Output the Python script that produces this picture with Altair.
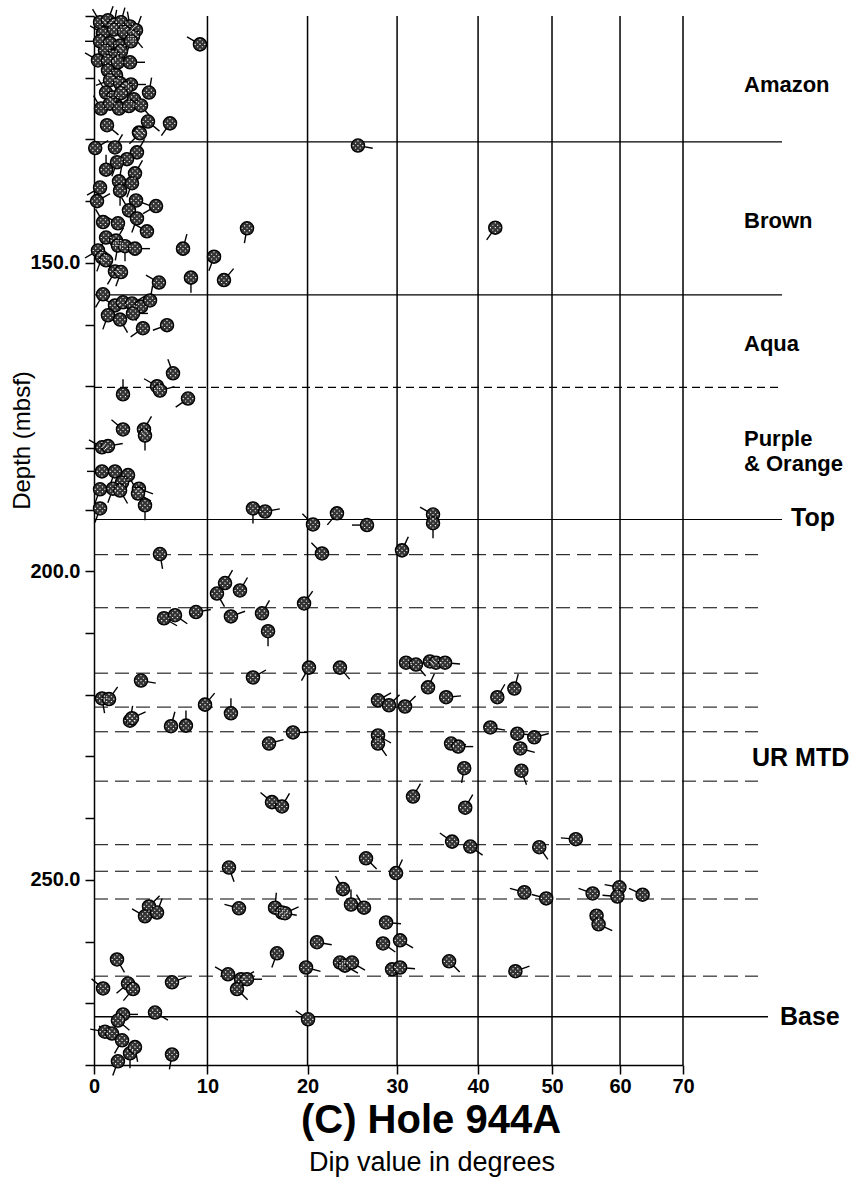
import altair as alt
import pandas as pd

# ---------------------------------------------------------------------------
# Tadpole data for Hole 944A: dip (degrees), depth (mbsf), dip azimuth (deg)
# ---------------------------------------------------------------------------

# Amazon interval
AMAZON_DIP = [0.50, 1.16, 1.67, 2.26, 3.03, 3.55, 0.75, 1.67, 2.52, 3.29,
              0.50, 1.33, 2.18, 3.11, 0.91, 2.26, 1.58, 0.33, 1.16, 2.00,
              3.03, 1.16, 1.84, 1.33, 2.18, 3.11, 2.69, 4.68, 1.00, 1.58,
              2.26, 3.37, 0.58, 1.33, 2.09, 2.94, 3.98, 1.08, 4.59, 6.55,
              3.80, 9.30]
AMAZON_DEPTH = [111.0, 110.7, 111.4, 111.0, 111.7, 112.3, 112.8, 112.2, 112.6, 113.3,
                114.1, 114.4, 114.8, 114.1, 115.6, 115.7, 116.5, 117.2, 117.3, 117.5,
                117.5, 118.8, 119.6, 120.4, 120.9, 121.1, 121.7, 122.4, 122.4, 123.2,
                122.5, 123.5, 125.0, 124.2, 125.0, 124.6, 124.5, 127.7, 127.1, 127.4,
                128.9, 114.6]
AMAZON_AZI = [330, 20, 10, 15, 350, 20, 300, 30, 180, 140,
              270, 200, 160, 200, 90, 20, 250, 300, 200, 90,
              90, 120, 30, 250, 150, 90, 330, 10, 330, 210,
              180, 130, 330, 240, 90, 300, 140, 130, 130, 215,
              30, 300]

# Brown interval
BROWN_DIP = [0.10, 1.75, 3.89, 3.63, 2.77, 1.92, 1.00, 3.46, 2.09, 3.20,
             0.50, 2.18, 0.25, 3.55, 5.30, 2.94, 3.63, 0.75, 2.00, 4.50,
             1.00, 1.84, 2.00, 2.60, 3.46, 0.33, 0.66, 1.00, 1.75, 2.26,
             7.73, 8.46, 5.56, 10.62, 11.57, 13.81, 25.50, 42.25]
BROWN_DEPTH = [131.4, 131.3, 129.0, 132.1, 133.2, 133.7, 134.9, 135.5, 136.8, 137.1,
               137.8, 138.3, 140.0, 139.9, 140.8, 141.5, 142.8, 143.4, 143.6, 144.9,
               145.9, 146.4, 147.2, 147.3, 147.7, 148.0, 149.1, 149.6, 151.4, 151.5,
               147.7, 152.4, 153.2, 149.0, 152.8, 144.4, 131.0, 144.3]
BROWN_AZI = [60, 30, 225, 30, 240, 200, 0, 30, 10, 200,
             240, 180, 60, 110, 240, 330, 200, 330, 300, 300,
             210, 30, 190, 180, 90, 240, 200, 150, 210, 200,
             15, 180, 300, 200, 40, 190, 100, 215]

# Aqua interval
AQUA_DIP = [0.75, 1.75, 2.43, 3.20, 3.98, 4.77, 1.16, 2.18, 3.29, 4.15,
            6.28, 6.82, 5.39, 5.65, 2.43, 8.19]
AQUA_DEPTH = [155.1, 156.9, 156.4, 156.6, 157.1, 156.1, 158.5, 159.2, 158.2, 160.6,
              160.1, 167.9, 170.0, 170.7, 171.3, 172.0]
AQUA_AZI = [210, 300, 90, 60, 200, 10, 200, 150, 90, 235,
            250, 340, 300, 75, 0, 235]

# Purple & Orange interval
PURPLE_DIP = [2.43, 4.24, 4.33, 0.66, 1.16, 0.66, 1.75, 2.86, 2.35, 1.58,
              0.50, 2.18, 3.80, 3.72, 4.33, 0.50, 14.40, 15.61]
PURPLE_DEPTH = [177.0, 177.0, 178.0, 179.9, 179.7, 183.8, 183.8, 184.4, 185.6, 186.6,
                186.7, 186.9, 186.6, 187.4, 189.3, 189.8, 189.8, 190.3]
PURPLE_AZI = [310, 30, 180, 300, 80, 270, 200, 150, 330, 200,
              200, 150, 110, 120, 180, 200, 180, 80]

# UR MTD interval
MTD_DIP = [20.58, 23.17, 26.52, 34.32, 34.32, 5.65, 21.54, 30.58, 11.67, 10.90,
           13.12, 19.63, 6.01, 7.00, 8.93, 12.24, 15.30, 15.91, 20.15, 23.50,
           31.06, 32.25, 33.95, 34.69, 35.81, 33.71, 35.94, 3.98, 14.40, 0.66,
           1.25, 9.77, 27.78, 29.05, 30.94, 3.03, 3.20, 6.64, 8.00, 12.24,
           16.01, 18.47, 27.78, 27.78, 36.56, 37.46, 38.22, 31.89, 16.31, 17.33,
           42.52, 44.80, 41.60, 45.20, 47.52, 45.60, 45.75, 38.35, 36.69, 39.00,
           48.21, 53.41, 29.88, 46.16, 49.18, 55.88, 59.90, 59.60, 63.50, 56.46,
           56.76, 28.71, 28.36, 30.35, 29.41, 30.35, 36.31, 44.94, 12.05, 26.41,
           23.83, 24.72, 26.18, 4.68, 4.33, 5.39, 13.02, 16.62, 17.33, 17.64,
           21.00, 16.82, 1.92, 23.50, 24.05, 24.83, 19.84, 0.75, 2.86, 3.29,
           6.73, 11.96, 13.22, 13.81, 12.83, 2.43, 2.00, 5.21, 20.05, 0.91,
           1.50, 2.35, 3.03, 3.46, 2.00, 6.73]
MTD_DEPTH = [192.4, 190.6, 192.5, 190.8, 192.2, 197.2, 197.1, 196.6, 201.9, 203.6,
             203.1, 205.2, 207.6, 207.1, 206.6, 207.3, 206.8, 209.7, 215.6, 215.6,
             214.8, 215.1, 214.6, 214.8, 214.8, 218.8, 220.4, 217.7, 217.2, 220.6,
             220.7, 221.6, 220.9, 221.7, 221.9, 224.2, 223.8, 225.1, 225.0, 223.0,
             227.9, 226.1, 226.6, 227.9, 227.9, 228.4, 231.9, 236.5, 237.4, 238.1,
             220.4, 219.0, 225.3, 226.3, 226.9, 228.7, 232.3, 238.3, 243.8, 244.6,
             244.7, 243.4, 248.9, 252.0, 253.0, 252.2, 251.2, 252.7, 252.4, 255.8,
             257.2, 256.9, 260.3, 259.8, 264.5, 264.2, 263.2, 264.8, 248.0, 246.5,
             251.5, 254.0, 254.5, 254.3, 255.9, 255.3, 254.6, 254.5, 255.3, 255.4,
             260.1, 261.9, 262.9, 263.4, 263.9, 263.4, 264.2, 267.6, 266.8, 267.7,
             266.6, 265.3, 266.1, 266.1, 267.7, 271.8, 272.8, 271.5, 272.6, 274.6,
             274.9, 276.0, 278.1, 277.1, 279.4, 278.3]
MTD_AZI = [315, 220, 270, 300, 180, 170, 315, 25, 30, 150,
           30, 35, 120, 125, 80, 70, 30, 180, 210, 140,
           120, 140, 90, 100, 95, 25, 85, 100, 60, 170,
           35, 40, 60, 45, 45, 10, 65, 15, 0, 0,
           75, 90, 120, 145, 95, 90, 190, 30, 310, 30,
           30, 15, 100, 95, 75, 105, 160, 30, 305, 125,
           145, 275, 25, 285, 285, 290, 280, 275, 295, 160,
           115, 95, 125, 120, 90, 95, 135, 70, 160, 135,
           330, 0, 330, 45, 300, 20, 285, 5, 100, 65,
           100, 200, 150, 110, 120, 120, 105, 310, 230, 220,
           70, 300, 60, 90, 135, 90, 130, 120, 305, 280,
           300, 210, 180, 170, 200, 190]

# Axis ticks and grid
DIP_TICKS = [0, 10, 20, 30, 40, 50, 60, 70]
GRID_DIPS = [10, 20, 30, 40, 50, 60, 70]
DEPTH_TICKS = list(range(110, 281, 10))

# Interval boundaries (mbsf)
SOLID_BOUNDARIES = [130.4, 155.2, 191.6]
AQUA_BOUNDARY = [170.2]
MTD_DASHED = [197.3, 205.9, 216.5, 222.0, 226.0, 234.0, 244.3, 248.6, 253.1, 265.6]
BASE_BOUNDARY = [272.2]

# Interval names and where they sit in depth
UNIT_LABELS = ["Amazon", "Brown", "Aqua", "Purple", "& Orange"]
UNIT_LABEL_DEPTHS = [121.2, 143.3, 163.1, 178.5, 182.6]
TOP_LABEL, TOP_LABEL_DEPTH = "Top", 191.4
MTD_LABEL, MTD_LABEL_DEPTH = "UR MTD", 230.2
BASE_LABEL, BASE_LABEL_DEPTH = "Base", 272.2

TITLE = "(C) Hole 944A"
X_TITLE = "Dip value in degrees"
Y_TITLE = "Depth (mbsf)"

# ---------------------------------------------------------------------------
FONT = "Liberation Sans, Arial, Helvetica, sans-serif"
W, H = 589, 1049

points = pd.DataFrame({
    "dip": AMAZON_DIP + BROWN_DIP + AQUA_DIP + PURPLE_DIP + MTD_DIP,
    "depth": AMAZON_DEPTH + BROWN_DEPTH + AQUA_DEPTH + PURPLE_DEPTH + MTD_DEPTH,
    "azimuth": AMAZON_AZI + BROWN_AZI + AQUA_AZI + PURPLE_AZI + MTD_AZI,
})

# compressed dip scale (log of 1 + dip/70)
x_scale = alt.Scale(type="symlog", constant=70, domain=[0, 70], nice=False)
y_scale = alt.Scale(domain=[110, 280], reverse=True, nice=False, zero=False)

x_axis = alt.Axis(
    values=DIP_TICKS, title=None, grid=False, labelFlush=False, labelOverlap=False,
    tickSize=9, tickWidth=1.5, tickColor="black", domainColor="black", domainWidth=1.5,
    labelFont=FONT, labelFontSize=20, labelFontWeight="bold", labelColor="black",
    labelPadding=2,
)
y_axis = alt.Axis(
    values=DEPTH_TICKS, grid=False, labelOverlap=False,
    labelExpr="datum.value % 50 === 0 ? format(datum.value, '.1f') : ''",
    tickSize=9, tickWidth=1.5, tickColor="black", domainColor="black", domainWidth=1.5,
    labelFont=FONT, labelFontSize=20, labelFontWeight="bold", labelColor="black",
    labelPadding=5,
    title=Y_TITLE, titleFont=FONT, titleFontSize=24, titleFontWeight="normal",
    titleColor="black", titleX=-72, titleY=424, titleAngle=270,
    titleAlign="center", titleBaseline="middle",
)


def xq(field):
    return alt.X(f"{field}:Q", scale=x_scale, axis=x_axis)


def yq(field):
    return alt.Y(f"{field}:Q", scale=y_scale, axis=y_axis)


# vertical dip grid
grid = alt.Chart(pd.DataFrame({"g": GRID_DIPS})).mark_rule(
    color="black", strokeWidth=1.5
).encode(x=xq("g"), y=alt.value(0), y2=alt.value(H))


def boundary(depths, x_end, **style):
    return alt.Chart(pd.DataFrame({"b": depths})).mark_rule(color="black", **style).encode(
        y=yq("b"), x=alt.value(0), x2=alt.value(x_end)
    )


solid = boundary(SOLID_BOUNDARIES, 688, strokeWidth=1.2)
aqua = boundary(AQUA_BOUNDARY, 689, strokeWidth=1.2, strokeDash=[8, 5])
mtd = boundary(MTD_DASHED, 664, strokeWidth=1.0, strokeDash=[14, 7])
base_line = boundary(BASE_BOUNDARY, 674, strokeWidth=1.5)

# tadpole tails point toward the dip azimuth
tails = alt.Chart(points).mark_point(
    shape="M0,0L0,-1", size=900, filled=False, color="black", strokeWidth=1.4, opacity=1
).encode(x=xq("dip"), y=yq("depth"), angle=alt.Angle("azimuth:Q", scale=None))

HEAD_SIZE = 175
heads = alt.Chart(points).mark_point(
    shape="circle", size=HEAD_SIZE, filled=True, fill="#333333", stroke="black",
    strokeWidth=1.3, opacity=1
).encode(x=xq("dip"), y=yq("depth"))

# stippled texture inside each head
SP, HS = 0.36, 0.085
cells = [(i, j) for i in range(-2, 3) for j in range(-2, 3)
         if (i + j) % 2 == 0 and (i * i + j * j) * SP * SP <= 0.6]
stipple_path = "".join(
    f"M{i*SP-HS:.3f},{j*SP-HS:.3f}h{2*HS:.3f}v{2*HS:.3f}h{-2*HS:.3f}Z" for i, j in cells
)
stipple = alt.Chart(points).mark_point(
    shape=stipple_path, size=HEAD_SIZE, filled=True, fill="white", strokeWidth=0, opacity=1
).encode(x=xq("dip"), y=yq("depth"))

unit_text = alt.Chart(pd.DataFrame({"label": UNIT_LABELS, "d": UNIT_LABEL_DEPTHS})).mark_text(
    align="left", baseline="middle", font=FONT, fontSize=22, fontWeight="bold", color="black"
).encode(x=alt.value(650), y=yq("d"), text="label:N")


def big_label(text, depth, x_px):
    return alt.Chart(pd.DataFrame({"label": [text], "d": [depth]})).mark_text(
        align="left", baseline="middle", font=FONT, fontSize=25, fontWeight="bold",
        color="black"
    ).encode(x=alt.value(x_px), y=yq("d"), text="label:N")


top_text = big_label(TOP_LABEL, TOP_LABEL_DEPTH, 697)
mtd_text = big_label(MTD_LABEL, MTD_LABEL_DEPTH, 658)
base_text = big_label(BASE_LABEL, BASE_LABEL_DEPTH, 686)

title_text = alt.Chart(pd.DataFrame({"t": [TITLE]})).mark_text(
    align="center", baseline="middle", font=FONT, fontSize=40, fontWeight="bold", color="black"
).encode(x=alt.value(337), y=alt.value(1105), text="t:N")
xtitle_text = alt.Chart(pd.DataFrame({"t": [X_TITLE]})).mark_text(
    align="center", baseline="middle", font=FONT, fontSize=27, color="black"
).encode(x=alt.value(338), y=alt.value(1147), text="t:N")

chart = alt.layer(
    grid, solid, aqua, mtd, base_line, tails, heads, stipple,
    unit_text, top_text, mtd_text, base_text, title_text, xtitle_text,
).properties(
    width=W, height=H,
    padding={"left": 94, "top": 16, "right": 854 - 94 - W, "bottom": 1178 - 16 - H},
    autosize=alt.AutoSizeParams(type="none"),
    background="white",
).configure_view(stroke=None)

chart.save("out.html", embed_options={"renderer": "svg", "actions": False})
